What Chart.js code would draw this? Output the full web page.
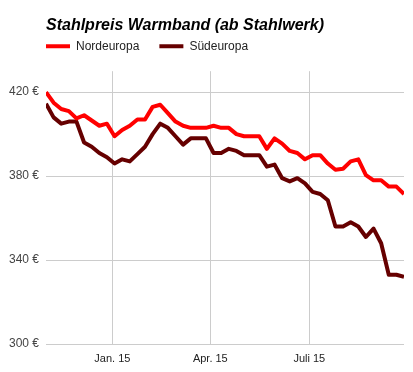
<!DOCTYPE html>
<html><head><meta charset="utf-8">
<script src="https://cdn.jsdelivr.net/npm/chart.js@4"></script>
<style>html,body{margin:0;padding:0;background:#fff}canvas{display:block}</style>
</head><body>
<canvas id="c" width="413" height="372"></canvas>
<script>
const titleText = "Stahlpreis Warmband (ab Stahlwerk)";
const seriesNames = ["Nordeuropa", "Südeuropa"];
const dates = [
  "2014-11-01","2014-11-08","2014-11-15","2014-11-22","2014-11-29",
  "2014-12-06","2014-12-13","2014-12-20","2014-12-27",
  "2015-01-03","2015-01-10","2015-01-17","2015-01-24","2015-01-31",
  "2015-02-07","2015-02-14","2015-02-21","2015-02-28",
  "2015-03-07","2015-03-14","2015-03-21","2015-03-28",
  "2015-04-04","2015-04-11","2015-04-18","2015-04-25",
  "2015-05-02","2015-05-09","2015-05-16","2015-05-23","2015-05-30",
  "2015-06-06","2015-06-13","2015-06-20","2015-06-27",
  "2015-07-04","2015-07-11","2015-07-18","2015-07-25",
  "2015-08-01","2015-08-08","2015-08-15","2015-08-22","2015-08-29",
  "2015-09-05","2015-09-12","2015-09-19","2015-09-26"
];
const nordeuropa = [420, 415, 412, 411, 407.5, 409, 406.5, 404, 405, 399, 402, 404, 407, 407, 413, 414, 410, 406, 404, 403, 403, 403, 404, 403, 403, 400, 399, 399, 399, 393, 398, 395.5, 392, 391, 388, 390, 390, 386, 383, 383.5, 387, 388, 380.5, 378, 378, 375, 375, 371.5];
const suedeuropa = [414.5, 408, 405, 406, 406, 396, 394, 391, 389, 386, 388, 387, 390.5, 394, 400, 405, 403, 399, 395, 398, 398, 398, 391, 391, 393, 392, 390, 390, 390, 384.5, 385.5, 379, 377.5, 379, 376.5, 372.5, 371.5, 368.5, 356, 356, 358, 356, 351, 355, 348, 333, 333, 332];
const xTickDates = ["2015-01-01", "2015-04-01", "2015-07-01"];
const xTickLabels = ["Jan. 15", "Apr. 15", "Juli 15"];
const yTicks = [300, 340, 380, 420];
const yMin = 300, yMax = 430;

const DAY = 86400000;
const origin = Date.UTC(2015, 0, 1);
const toDay = s => { const [y, m, d] = s.split('-').map(Number); return (Date.UTC(y, m - 1, d) - origin) / DAY; };
const xs = dates.map(toDay);
const tickDays = xTickDates.map(toDay);

Chart.defaults.font.family = "'Liberation Sans', Arial, sans-serif";

const LEGEND_PAD = 20;
const legendPlace = {
  id: 'legendPlace',
  beforeLayout(chart) {
    const lg = chart.legend;
    if (lg && !lg.__gap) {
      const f = lg.fit;
      lg.fit = function () { f.apply(this, arguments); this.height += 9; };
      lg.__gap = true;
    }
  },
  afterLayout(chart) {
    const lg = chart.legend;
    if (lg) { lg.left = chart.chartArea.left - LEGEND_PAD; }
  }
};

new Chart(document.getElementById('c'), {
  type: 'line',
  plugins: [legendPlace],
  data: {
    datasets: [
      { label: seriesNames[0], data: xs.map((x, i) => ({ x, y: nordeuropa[i] })), borderColor: '#ff0000', backgroundColor: '#ff0000', borderWidth: 4, pointRadius: 0, tension: 0, borderJoinStyle: 'round' },
      { label: seriesNames[1], data: xs.map((x, i) => ({ x, y: suedeuropa[i] })), borderColor: '#660000', backgroundColor: '#660000', borderWidth: 4, pointRadius: 0, tension: 0, borderJoinStyle: 'round' }
    ]
  },
  options: {
    responsive: false, animation: false, devicePixelRatio: 1,
    layout: { padding: { left: 0, right: 9, top: 0, bottom: 0 } },
    plugins: {
      title: { display: true, text: titleText, align: 'start', fullSize: false, color: '#000', font: { size: 16, weight: 'bold', style: 'italic' }, padding: { top: 16, bottom: -15 } },
      legend: {
        display: true, position: 'top', align: 'start',
        labels: {
          boxWidth: 24, boxHeight: 4, padding: LEGEND_PAD, color: '#222', font: { size: 12 },
          generateLabels(chart) {
            return Chart.defaults.plugins.legend.labels.generateLabels(chart).map(l => ({ ...l, lineWidth: 0, fillStyle: l.strokeStyle }));
          }
        }
      },
      tooltip: { enabled: false }
    },
    scales: {
      x: {
        type: 'linear', min: xs[0], max: xs[xs.length - 1],
        afterBuildTicks(s) { s.ticks = tickDays.map(v => ({ value: v })); },
        ticks: { callback: v => xTickLabels[tickDays.indexOf(v)], padding: 8, color: '#222', font: { size: 11 }, maxRotation: 0, autoSkip: false },
        grid: { color: '#cccccc', drawTicks: false },
        border: { display: false },
        afterFit(s) { s.height = 28; }
      },
      y: {
        min: yMin, max: yMax,
        afterBuildTicks(s) { s.ticks = yTicks.map(v => ({ value: v })); },
        ticks: { callback: v => v + ' €', padding: 7, color: '#444', font: { size: 12 } },
        grid: { color: '#cccccc', drawTicks: false },
        border: { display: false },
        afterFit(s) { s.width = 46; }
      }
    }
  }
});
</script>
</body></html>
